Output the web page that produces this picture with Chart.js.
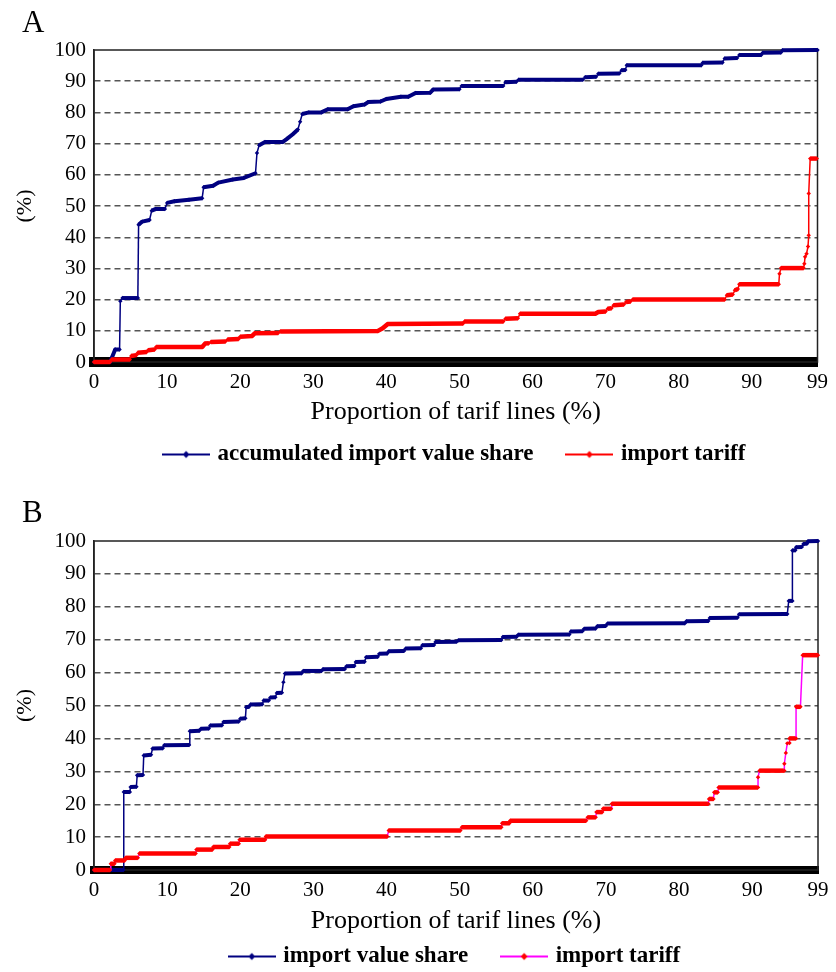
<!DOCTYPE html>
<html>
<head>
<meta charset="utf-8">
<script src="https://cdn.jsdelivr.net/npm/chart.js@4.4.0/dist/chart.umd.min.js"></script>
<style>
  html, body { margin: 0; padding: 0; background: #fff; overflow: hidden; }
  #wrap { position: relative; width: 836px; height: 972px; }
  canvas { position: absolute; left: 0; }
  #chartA { top: 0; }
  #chartB { top: 476px; }
</style>
</head>
<body>
<div id="wrap">
  <canvas id="chartA" width="836" height="476"></canvas>
  <canvas id="chartB" width="836" height="496"></canvas>
</div>
<script>
// x axis labels (proportion of tariff lines, %)
const xTickValues = [0, 10, 20, 30, 40, 50, 60, 70, 80, 90, 99];

// panel A - accumulated import value share
const aShareX = [0, 2.2, 2.9, 3.5, 3.6, 3.9, 6.0, 6.1, 6.6, 7.6, 7.9, 8.4, 9.7, 10.0, 11.0, 13.0, 14.8, 15.0, 16.3, 17.0, 19.0, 20.5, 22.1, 22.3, 22.6, 23.4, 25.8, 26.4, 27.2, 27.9, 28.2, 28.5, 29.4, 31.1, 32.0, 34.7, 35.5, 37.0, 37.5, 39.2, 40.0, 42.0, 43.0, 44.0, 46.0, 46.4, 50.0, 50.3, 56.0, 56.3, 57.8, 58.1, 66.9, 67.2, 68.7, 69.0, 71.9, 72.2, 72.7, 72.9, 83.1, 83.3, 86.0, 86.3, 88.0, 88.3, 91.3, 91.5, 94.0, 94.2, 99.0];
const aShareY = [0, 0, 4, 4, 19.5, 20.5, 20.5, 44, 45, 45.5, 48.5, 49, 49, 51, 51.5, 52, 52.5, 56, 56.5, 57.5, 58.5, 59, 60.5, 67, 69.5, 70.5, 70.5, 71.5, 73, 74.5, 77, 79.5, 80, 80, 81, 81, 82, 82.5, 83.3, 83.5, 84.3, 85, 85, 86.2, 86.3, 87.3, 87.4, 88.5, 88.5, 89.7, 89.8, 90.5, 90.5, 91.3, 91.4, 92.4, 92.5, 93.5, 93.6, 95.1, 95.1, 95.9, 96, 97.3, 97.4, 98.4, 98.4, 99.1, 99.2, 99.9, 100];

// panel A - import tariff
const aTariffX = [0, 2.2, 2.4, 4.9, 5.1, 5.8, 6.0, 7.2, 7.4, 8.3, 8.5, 14.8, 15.2, 15.7, 16.0, 18.0, 18.3, 19.8, 20.0, 21.6, 22.0, 25.2, 25.5, 38.8, 39.5, 40.2, 50.5, 50.7, 56.0, 56.3, 58.0, 58.3, 68.6, 69.0, 70.0, 70.3, 70.8, 71.1, 72.5, 72.8, 73.4, 73.7, 86.3, 86.6, 87.4, 87.7, 88.1, 88.3, 93.7, 93.8, 94.0, 97.1, 97.2, 97.3, 97.5, 97.7, 97.8, 97.8, 98.0, 98.9];
const aTariffY = [0, 0, 0.8, 0.8, 1.9, 2.2, 3.0, 3.2, 3.8, 4.0, 4.8, 4.8, 5.9, 6.0, 6.4, 6.6, 7.2, 7.4, 8.1, 8.3, 9.2, 9.3, 9.8, 9.9, 10.8, 12.2, 12.3, 13.0, 13.0, 13.9, 14.0, 15.5, 15.5, 16.0, 16.2, 17.1, 17.2, 18.2, 18.4, 19.2, 19.4, 20.0, 20.0, 21.4, 21.6, 23.0, 23.4, 24.9, 24.9, 28.3, 30.1, 30.1, 31.5, 33.7, 34.7, 37.0, 40.6, 54.0, 65.2, 65.2];

// panel B - import value share
const bShareX = [0, 4.0, 4.07, 4.9, 5.0, 5.8, 5.9, 6.7, 6.8, 7.8, 8.0, 9.4, 9.6, 13.0, 13.1, 14.4, 14.6, 15.7, 15.9, 17.5, 17.7, 19.8, 20.0, 20.7, 20.8, 21.2, 21.4, 23.0, 23.2, 23.9, 24.1, 24.8, 25.0, 25.7, 25.9, 26.1, 28.4, 28.6, 31.1, 31.3, 34.3, 34.5, 35.6, 35.8, 37.0, 37.2, 38.8, 39.0, 40.1, 40.3, 42.4, 42.6, 44.7, 44.9, 46.5, 46.7, 49.6, 49.8, 55.7, 55.9, 57.8, 58.0, 65.0, 65.2, 66.8, 67.0, 68.6, 68.8, 70.0, 70.2, 80.8, 81.0, 84.0, 84.2, 88.0, 88.2, 94.8, 95.0, 95.5, 95.5, 95.9, 96.0, 96.8, 97.0, 97.5, 97.6, 99.0];
const bShareY = [0, 0, 23.7, 23.7, 25.2, 25.3, 28.8, 28.9, 34.8, 35.0, 36.9, 37.0, 37.9, 38.0, 42.2, 42.3, 42.9, 43.0, 43.9, 44.0, 45.0, 45.1, 46.0, 46.1, 49.5, 49.6, 50.3, 50.4, 51.5, 51.5, 52.4, 52.5, 53.8, 53.9, 57.1, 59.7, 59.8, 60.5, 60.5, 61.0, 61.1, 61.9, 62.0, 63.2, 63.3, 64.7, 64.8, 65.7, 65.8, 66.5, 66.6, 67.3, 67.4, 68.3, 68.4, 69.3, 69.4, 69.8, 69.9, 70.8, 70.9, 71.5, 71.6, 72.5, 72.6, 73.3, 73.4, 74.1, 74.2, 74.9, 75.0, 75.6, 75.7, 76.6, 76.7, 77.7, 77.8, 81.8, 81.8, 97.1, 97.2, 98.1, 98.2, 99.1, 99.2, 99.9, 100];

// panel B - import tariff
const bTariffX = [0, 2.2, 2.3, 2.8, 2.9, 4.2, 4.3, 6.0, 6.2, 13.9, 14.0, 16.2, 16.3, 18.5, 18.6, 19.8, 19.9, 23.4, 23.5, 40.1, 40.3, 50.1, 50.3, 55.7, 55.8, 56.8, 56.9, 67.3, 67.5, 68.6, 68.7, 69.5, 69.6, 70.7, 70.8, 84.0, 84.1, 84.7, 84.8, 85.3, 85.4, 90.8, 90.8, 91.0, 94.4, 94.4, 94.6, 94.8, 95.1, 95.1, 96.0, 96.0, 96.6, 96.9, 99.0];
const bTariffY = [0, 0, 1.9, 1.9, 2.9, 2.9, 3.7, 3.7, 5.0, 5.0, 6.2, 6.2, 7.0, 7.0, 8.0, 8.0, 9.2, 9.2, 10.2, 10.2, 12.0, 12.0, 13.0, 13.0, 14.2, 14.2, 15.0, 15.0, 16.0, 16.0, 17.6, 17.6, 18.6, 18.6, 20.1, 20.1, 21.6, 21.6, 23.6, 23.6, 25.1, 25.1, 28.2, 30.2, 30.2, 32.3, 35.6, 38.5, 38.6, 40.0, 40.0, 49.6, 49.6, 65.3, 65.3];

const NAVY = '#000080';
const RED = '#ff0000';
const MAGENTA = '#ff00ff';

Chart.defaults.font.family = '"Liberation Serif", "Times New Roman", serif';
Chart.defaults.color = '#000';

function toXY(xs, ys) {
  return xs.map((x, i) => ({ x: x, y: ys[i] }));
}

// line + diamond marker for legend entries
function legendIcon(lineColor, dotColor) {
  const c = document.createElement('canvas');
  c.width = 48; c.height = 10;
  const g = c.getContext('2d');
  g.strokeStyle = lineColor; g.lineWidth = 2;
  g.beginPath(); g.moveTo(0, 5); g.lineTo(48, 5); g.stroke();
  g.fillStyle = dotColor;
  g.beginPath(); g.moveTo(24, 1.5); g.lineTo(27.5, 5); g.lineTo(24, 8.5); g.lineTo(20.5, 5); g.closePath(); g.fill();
  return c;
}

const framePlugin = {
  id: 'frame',
  beforeDatasetsDraw(chart) {
    const { ctx, chartArea: a } = chart;
    ctx.save();
    ctx.strokeStyle = '#222';
    ctx.lineWidth = 1.5;
    ctx.strokeRect(a.left, a.top, a.right - a.left, a.bottom - a.top);
    ctx.restore();
  }
};

const letterPlugin = {
  id: 'panelLetter',
  afterDraw(chart, args, opts) {
    const ctx = chart.ctx;
    ctx.save();
    ctx.font = '31px "Liberation Serif"';
    ctx.fillStyle = '#000';
    ctx.textBaseline = 'alphabetic';
    ctx.fillText(opts.text, 22, opts.y);
    ctx.restore();
  }
};

function panelChart(canvasId, p) {
  const thin = c => Math.abs(c.p1.x - c.p0.x) < 2.5;
  const icons = [legendIcon(NAVY, NAVY), legendIcon(p.jumpColor, RED)];
  return new Chart(document.getElementById(canvasId), {
    type: 'line',
    data: {
      datasets: [
        {
          label: p.labels[0],
          data: toXY(p.shareX, p.shareY),
          order: 1,
          borderColor: NAVY,
          backgroundColor: NAVY,
          pointBackgroundColor: NAVY,
          pointBorderWidth: 0,
          pointStyle: 'rectRot',
          pointRadius: 2.2,
          borderWidth: 4,
          borderJoinStyle: 'round',
          clip: false,
          segment: { borderWidth: c => thin(c) ? 1.5 : 4 }
        },
        {
          label: p.labels[1],
          data: toXY(p.tariffX, p.tariffY),
          order: 0,
          borderColor: RED,
          backgroundColor: RED,
          pointBackgroundColor: RED,
          pointBorderWidth: 0,
          pointStyle: 'rectRot',
          pointRadius: 2.2,
          borderWidth: 4.5,
          borderJoinStyle: 'round',
          clip: false,
          segment: {
            borderWidth: c => thin(c) ? 1.5 : 4.5,
            borderColor: c => thin(c) ? p.jumpColor : RED
          }
        }
      ]
    },
    options: {
      responsive: false,
      animation: false,
      events: [],
      layout: { padding: { top: p.padTop, right: p.padRight, bottom: p.padBottom, left: 0 } },
      scales: {
        x: {
          type: 'linear',
          min: 0,
          max: 99,
          afterBuildTicks: s => { s.ticks = xTickValues.map(v => ({ value: v })); },
          afterFit: s => { s.height = p.xAxisH; },
          grid: { display: false, drawTicks: false },
          border: { display: true, width: p.bar, color: '#000' },
          ticks: { padding: p.xTickPad, color: '#000', font: { size: 21 }, maxRotation: 0, autoSkip: false },
          title: {
            display: true,
            text: 'Proportion of tarif lines (%)',
            color: '#000',
            font: { size: 26 },
            padding: { top: 0, bottom: p.xTitlePad }
          }
        },
        y: {
          min: 0,
          max: 100,
          afterFit: s => { s.width = 94; },
          ticks: { stepSize: 10, padding: 8, color: '#000', font: { size: 21 } },
          grid: {
            drawTicks: false,
            lineWidth: 1.4,
            color: c => (c.tick && (c.tick.value === 0 || c.tick.value === 100)) ? 'rgba(0,0,0,0)' : '#555'
          },
          border: { display: true, width: 1.5, color: '#222', dash: [6, 4] },
          title: { display: true, text: '(%)', color: '#000', font: { size: 22 }, padding: { top: 12, bottom: 0 } }
        }
      },
      plugins: {
        tooltip: { enabled: false },
        panelLetter: { text: p.letter, y: p.letterY },
        legend: {
          position: 'bottom',
          fullSize: false,
          labels: {
            usePointStyle: true,
            pointStyleWidth: 40,
            padding: 36,
            color: '#000',
            font: { size: 23, weight: 'bold' },
            generateLabels: chart => chart.data.datasets.map((ds, i) => ({
              text: ds.label,
              pointStyle: icons[i],
              fillStyle: ds.borderColor,
              strokeStyle: ds.borderColor,
              lineWidth: 0,
              hidden: false,
              datasetIndex: i,
              fontColor: '#000'
            }))
          }
        }
      }
    },
    plugins: [framePlugin, letterPlugin]
  });
}

panelChart('chartA', {
  letter: 'A', letterY: 32,
  labels: ['accumulated import value share', 'import tariff'],
  shareX: aShareX, shareY: aShareY, tariffX: aTariffX, tariffY: aTariffY,
  jumpColor: RED,
  padTop: 50, padRight: 12, padBottom: 0,
  xAxisH: 45, xTickPad: 8, xTitlePad: -20.6, bar: 10
});

panelChart('chartB', {
  letter: 'B', letterY: 46,
  labels: ['import value share', 'import tariff'],
  shareX: bShareX, shareY: bShareY, tariffX: bTariffX, tariffY: bTariffY,
  jumpColor: MAGENTA,
  padTop: 65, padRight: 13, padBottom: -6,
  xAxisH: 39, xTickPad: 7.5, xTitlePad: -27.6, bar: 8
});
</script>
</body>
</html>
